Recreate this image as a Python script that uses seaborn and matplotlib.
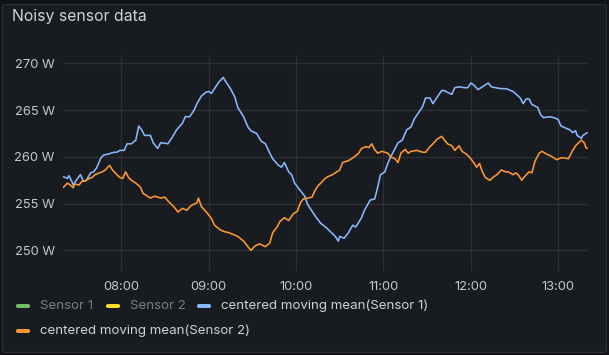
import matplotlib
matplotlib.use("Agg")
import matplotlib.pyplot as plt
import matplotlib.dates as mdates
from matplotlib.patches import FancyBboxPatch
import numpy as np
import pandas as pd
import seaborn as sns

# ---- data (minutes since 07:00, watts) ----
s1_minutes = [20, 23, 24, 26, 27, 30, 32, 34, 36, 39, 41, 43, 46, 48, 51, 55, 57, 59, 62, 64, 67, 70, 72, 74, 76,
              80, 82, 85, 87, 89, 92, 95, 98, 102, 104, 107, 110, 112, 115, 118, 120, 122, 124, 127, 130, 132, 135, 138, 140,
              144, 147, 149, 153, 156, 159, 162, 164, 168, 170, 172, 175, 177, 179, 183, 186, 188, 191, 194, 197, 201,
              203, 207, 209, 210, 213, 216, 219, 221, 225, 227, 231, 234, 236, 238, 241, 243, 245, 248, 250, 253, 256, 259, 261, 264,
              267, 269, 272, 274, 277, 280, 282, 284, 287, 289, 292, 296, 298, 300, 302, 305, 307, 309, 312, 314, 317, 321, 324,
              326, 329, 332, 334, 336, 338, 340, 342, 346, 348, 350, 354, 357, 360, 362, 365, 368, 370, 372, 373, 376, 377, 379, 380]
s1_values = [257.9, 257.7, 258.0, 257.4, 257.0, 257.7, 258.1, 257.4, 257.5, 258.3, 258.4, 258.8, 259.9, 260.2, 260.3, 260.5, 260.5, 260.7, 260.7, 261.4, 261.4, 261.8, 263.3, 262.9, 262.3,
             262.3, 261.5, 260.9, 261.5, 261.5, 261.4, 262.1, 262.9, 263.6, 264.3, 264.3, 265.0, 265.7, 266.5, 266.9, 267.0, 266.8, 267.3, 268.0, 268.5, 268.0, 267.3, 266.4, 265.3,
             264.3, 263.2, 262.8, 262.5, 261.7, 261.4, 260.4, 259.8, 259.1, 258.9, 259.4, 258.4, 258.1, 257.2, 256.4, 255.8, 254.9, 254.2, 253.5, 252.9, 252.4,
             252.1, 251.5, 251.0, 251.5, 251.3, 251.9, 252.7, 252.5, 253.5, 254.3, 255.4, 255.5, 256.7, 258.1, 258.4, 259.3, 260.0, 260.9, 261.5, 261.8, 262.9, 263.2, 264.0, 264.7,
             265.4, 266.3, 266.3, 265.7, 266.4, 267.1, 267.1, 266.9, 266.7, 267.4, 267.5, 267.4, 267.4, 267.9, 267.7, 267.2, 267.4, 267.6, 267.9, 267.5, 267.4, 267.3, 267.3,
             267.2, 267.0, 266.6, 266.3, 265.7, 266.2, 266.2, 265.6, 265.3, 264.5, 264.2, 264.3, 264.2, 264.0, 263.3, 263.1, 262.9, 262.6, 262.8, 262.3, 262.0, 262.3, 262.5, 262.6]

s2_minutes = [20, 23, 25, 27, 28, 31, 33, 35, 38, 40, 42, 45, 47, 49, 52, 54, 57, 59, 61, 63, 65, 67, 70, 73, 75, 78,
              80, 83, 87, 90, 92, 96, 99, 102, 105, 108, 112, 113, 115, 119, 122, 124, 128, 131, 134, 137, 140,
              144, 147, 149, 152, 155, 159, 162, 164, 167, 169, 172, 175, 178, 181, 183, 185, 188, 191, 193, 195, 197, 200, 202,
              205, 208, 210, 212, 216, 218, 220, 223, 225, 228, 230, 232, 234, 236, 239, 241, 243, 245, 248, 250, 252, 255, 257, 259, 263,
              267, 269, 272, 274, 277, 280, 282, 284, 287, 289, 292, 294, 297, 299, 302, 304, 306, 308, 310, 313, 316, 318, 321, 324,
              326, 329, 331, 333, 335, 337, 340, 342, 344, 347, 349, 352, 355, 357, 359, 362, 364, 367, 370, 372, 374, 376, 378, 379, 380]
s2_values = [256.7, 257.2, 257.0, 256.7, 257.1, 257.0, 257.4, 257.4, 257.7, 257.8, 258.1, 258.3, 258.4, 258.6, 259.1, 258.6, 258.1, 257.8, 257.7, 258.4, 257.8, 257.5, 257.2, 256.8, 256.1, 255.8,
             255.6, 255.8, 255.6, 255.7, 255.3, 254.7, 254.1, 254.5, 254.3, 254.8, 255.1, 255.6, 254.7, 254.0, 253.4, 252.7, 252.2, 252.0, 251.9, 251.7, 251.5,
             251.0, 250.4, 250.0, 250.5, 250.7, 250.4, 250.8, 251.9, 252.5, 253.1, 253.5, 253.2, 253.9, 254.2, 255.1, 255.5, 255.6, 255.7, 256.4, 256.9, 257.2, 257.7, 257.9,
             258.1, 258.4, 258.6, 259.4, 259.6, 259.8, 260.0, 260.4, 260.9, 261.1, 261.0, 261.4, 260.8, 260.4, 260.6, 260.5, 260.4, 260.0, 259.8, 259.4, 260.4, 260.8, 260.4, 260.6, 260.7,
             260.5, 260.5, 261.1, 261.4, 261.9, 262.2, 261.8, 261.4, 261.2, 260.7, 261.2, 260.6, 260.3, 260.0, 259.4, 258.9, 259.3, 258.4, 257.8, 257.5, 257.9, 258.1, 258.6, 258.4,
             258.4, 258.1, 258.3, 258.0, 257.5, 257.9, 258.4, 258.3, 259.5, 260.4, 260.6, 260.3, 260.1, 259.9, 259.7, 259.9, 259.9, 259.8, 260.7, 261.2, 261.5, 261.8, 261.5, 261.0, 260.9]

series_names = ["Sensor 1", "Sensor 2", "centered moving mean(Sensor 1)", "centered moving mean(Sensor 2)"]
series_colors = ["#73bf69", "#fade2a", "#8ab8ff", "#ff9830"]
y_ticks = [250, 255, 260, 265, 270]
title = "Noisy sensor data"

base = pd.Timestamp("2024-01-01 07:00")
df = pd.concat([
    pd.DataFrame({"time": base + pd.to_timedelta(s1_minutes, unit="m"), "value": s1_values, "series": series_names[2]}),
    pd.DataFrame({"time": base + pd.to_timedelta(s2_minutes, unit="m"), "value": s2_values, "series": series_names[3]}),
])

sns.set_theme(style="dark")
plt.rcParams["font.family"] = ["Inter", "DejaVu Sans"]

W, H = 609, 355
fig = plt.figure(figsize=(W / 100, H / 100), dpi=100)
fig.patch.set_facecolor("#111217")

panel = FancyBboxPatch((2.5 / W, 2.5 / H), 604 / W, 348 / H, boxstyle="round,pad=0,rounding_size=0.006",
                       transform=fig.transFigure, facecolor="#181b1f", edgecolor="#2b2e34", linewidth=1, zorder=-10)
fig.patches.append(panel)

ax = fig.add_axes([63 / W, 1 - 271 / H, 525 / W, (271 - 55) / H])
ax.set_zorder(5)
ax.set_facecolor("none")
sns.lineplot(data=df, x="time", y="value", hue="series", hue_order=series_names[2:],
             palette=series_colors[2:], linewidth=1.15, legend=False, ax=ax, estimator=None)

ax.set_xlim(base + pd.Timedelta(minutes=20), base + pd.Timedelta(minutes=380.5))
ax.set_ylim(247.8, 270.9)
ax.set_yticks(y_ticks)
ax.yaxis.set_major_formatter(plt.FuncFormatter(lambda v, p: f"{v:.0f} W"))
ax.xaxis.set_major_locator(mdates.HourLocator())
ax.xaxis.set_major_formatter(mdates.DateFormatter("%H:%M"))
ax.set_xlabel("")
ax.set_ylabel("")
for s in ax.spines.values():
    s.set_visible(False)
ax.grid(True, color="#2c2f35", linewidth=1)
ax.tick_params(axis="both", length=0, labelsize=9.3, labelcolor="#c6c7ce")
ax.tick_params(axis="y", pad=6)
ax.tick_params(axis="x", pad=7)

fig.text(12 / W, 1 - 17 / H, title, fontsize=11.4, color="#d0d1dc", va="center", ha="left")

# legend
def legend_item(x, y, color, label, text_color):
    fig.patches.append(FancyBboxPatch((x / W, (H - y - 2) / H), 14 / W, 4 / H,
                                      boxstyle="round,pad=0,rounding_size=0.004",
                                      transform=fig.transFigure, facecolor=color, edgecolor="none"))
    fig.text((x + 24) / W, 1 - y / H, label, fontsize=9.6, color=text_color, va="center", ha="left")

legend_item(16, 306, series_colors[0], series_names[0], "#7b7d85")
legend_item(106, 306, series_colors[1], series_names[1], "#7b7d85")
legend_item(197, 306, series_colors[2], series_names[2], "#cfd0da")
legend_item(16, 331, series_colors[3], series_names[3], "#cfd0da")

fig.savefig("out.png", dpi=100, facecolor=fig.get_facecolor())
